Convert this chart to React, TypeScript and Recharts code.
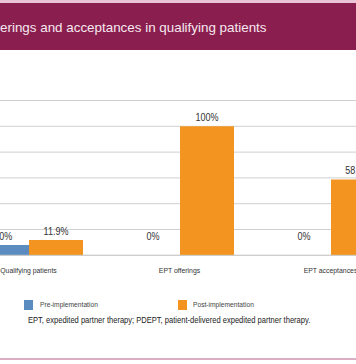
import React from "react";
import { BarChart, Bar, XAxis, YAxis, CartesianGrid, LabelList } from "recharts";

const categories = ["Qualifying patients", "EPT offerings", "EPT acceptances"];
const preValues = [8.0, 0, 0];
const postValues = [11.9, 100, 58.8];
const yTicks = [0, 20, 40, 60, 80, 100, 120];
const seriesNames = ["Pre-implementation", "Post-implementation"];
const titleText = "erings and acceptances in qualifying patients";
const footnote = "EPT, expedited partner therapy; PDEPT, patient-delivered expedited partner therapy.";

const data = categories.map((c, i) => ({ name: c, pre: preValues[i], post: postValues[i] }));

const BLUE = "#5b8cc0";
const ORANGE = "#f2941f";
const MAROON = "#8a1e4e";
const FONT = '"Liberation Sans", Arial, sans-serif';

const renderLabel = (props: any) => {
  const { x, y, width, height, value } = props;
  const base = Number(y) + Number(height);
  const ty = Math.min(Number(y) - 5, base - 15);
  const cx = Number(x) + Number(width) / 2;
  const txt = value === 100 ? "100%" : `${value === 0 ? "0" : Number(value).toFixed(1)}%`;
  return (
    <text x={0} y={0} transform={`translate(${cx},${ty}) scale(0.86,1)`} textAnchor="middle" fontSize={10.5} fill="#333" fontFamily={FONT}>
      {txt}
    </text>
  );
};

const renderTick = (props: any) => {
  const { x, y, payload } = props;
  return (
    <text x={0} y={0} transform={`translate(${x},${Number(y) + 5.5}) scale(0.86,1)`} textAnchor="middle" fontSize={8} fill="#333" fontFamily={FONT}>
      {payload.value}
    </text>
  );
};

const narrowDiv = (scale: number): React.CSSProperties => ({
  transform: `scaleX(${scale})`,
  transformOrigin: "0 50%",
});

export default function App() {
  return (
    <div style={{ position: "absolute", left: 0, top: 0, width: 356, height: 364, overflow: "hidden", background: "#fff" }}>
      <div style={{ position: "absolute", left: 0, top: 0, width: 356, height: 3, background: "#e9c3d6" }} />
      <div style={{ position: "absolute", left: 0, top: 3, width: 356, height: 47, background: MAROON }} />
      <div
        style={{
          position: "absolute",
          left: 0,
          top: 20,
          whiteSpace: "nowrap",
          color: "#f6e9f0",
          fontFamily: FONT,
          fontSize: 13.4,
          lineHeight: "16px",
        }}
      >
        {titleText}
      </div>
      <div style={{ position: "absolute", left: -47, top: 0 }}>
        <BarChart
          width={453}
          height={364}
          data={data}
          margin={{ top: 100.5, right: 0, bottom: 88.7, left: 0 }}
          barGap={0}
          barSize={54}
        >
          <CartesianGrid vertical={false} stroke="#cfcfcf" />
          <YAxis hide domain={[0, 120]} ticks={yTicks} />
          <XAxis
            dataKey="name"
            height={20}
            axisLine={{ stroke: "#cccccc" }}
            tickLine={false}
            tickSize={8}
            tickMargin={4}
            interval={0}
            tick={renderTick}
          />
          <Bar dataKey="pre" name={seriesNames[0]} fill={BLUE} minPointSize={0.01} isAnimationActive={false}>
            <LabelList dataKey="pre" content={renderLabel} />
          </Bar>
          <Bar dataKey="post" name={seriesNames[1]} fill={ORANGE} isAnimationActive={false}>
            <LabelList dataKey="post" content={renderLabel} />
          </Bar>
        </BarChart>
      </div>
      <div style={{ position: "absolute", left: 24, top: 299.5, width: 9, height: 10, background: BLUE }} />
      <div style={{ position: "absolute", left: 40, top: 299, fontFamily: FONT, fontSize: 7.5, color: "#444", lineHeight: "11px", whiteSpace: "nowrap", ...narrowDiv(0.89) }}>
        {seriesNames[0]}
      </div>
      <div style={{ position: "absolute", left: 178, top: 299.5, width: 9, height: 10, background: ORANGE }} />
      <div style={{ position: "absolute", left: 193, top: 299, fontFamily: FONT, fontSize: 7.5, color: "#444", lineHeight: "11px", whiteSpace: "nowrap", ...narrowDiv(0.89) }}>
        {seriesNames[1]}
      </div>
      <div style={{ position: "absolute", left: 28, top: 314, fontFamily: FONT, fontSize: 8.3, color: "#222", lineHeight: "12px", whiteSpace: "nowrap", ...narrowDiv(0.91) }}>
        {footnote}
      </div>
      <div style={{ position: "absolute", left: 0, top: 358, width: 356, height: 2, background: "#dcaec4" }} />
    </div>
  );
}
